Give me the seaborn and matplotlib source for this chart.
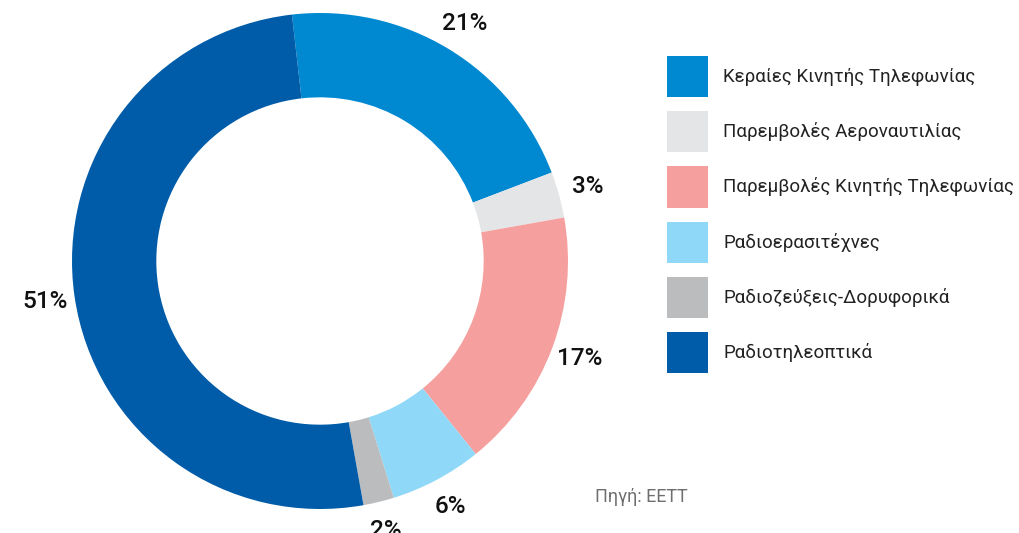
import matplotlib
matplotlib.use("Agg")
import matplotlib.pyplot as plt
import seaborn as sns

categories = ["Κεραίες Κινητής Τηλεφωνίας", "Παρεμβολές Αεροναυτιλίας",
              "Παρεμβολές Κινητής Τηλεφωνίας", "Ραδιοερασιτέχνες",
              "Ραδιοζεύξεις-Δορυφορικά", "Ραδιοτηλεοπτικά"]
shares = [21, 3, 17, 6, 2, 51]
colors = ["#0088d1", "#e4e5e7", "#f5a09e", "#8fd8f7", "#bbbcbe", "#005ca8"]

sns.set_theme(style="white")
plt.rcParams['font.family'] = ['Roboto', 'DejaVu Sans']

fig = plt.figure(figsize=(10.19, 5.33), dpi=100)
ax = fig.add_axes([72/1019, 24/533, 496/1019, 496/533])

wedges, texts = ax.pie(shares, colors=colors, startangle=96.5, counterclock=False,
                       labels=[f"{v}%" for v in shares], labeldistance=1.12,
                       wedgeprops=dict(width=0.34, linewidth=0),
                       textprops=dict(fontsize=17.5, color="#111111", fontweight="medium"))
for t in texts:
    t.set_ha("center")
    t.set_va("center")
ax.set_xlim(-1, 1)
ax.set_ylim(-1, 1)
ax.set_aspect("equal")
ax.axis("off")

fig.legend(wedges, categories, loc="upper left", bbox_to_anchor=(667/1019, 1-56/533),
           frameon=False, fontsize=13.5, handlelength=2.19, handleheight=3.0,
           labelspacing=0.75, handletextpad=0.8, borderpad=0, borderaxespad=0,
           labelcolor="#222222")

fig.text(595/1019, 1-497/533, "Πηγή: ΕΕΤΤ", fontsize=13, color="#6e6e6e",
         ha="left", va="center")

fig.savefig("out.png", dpi=100)
